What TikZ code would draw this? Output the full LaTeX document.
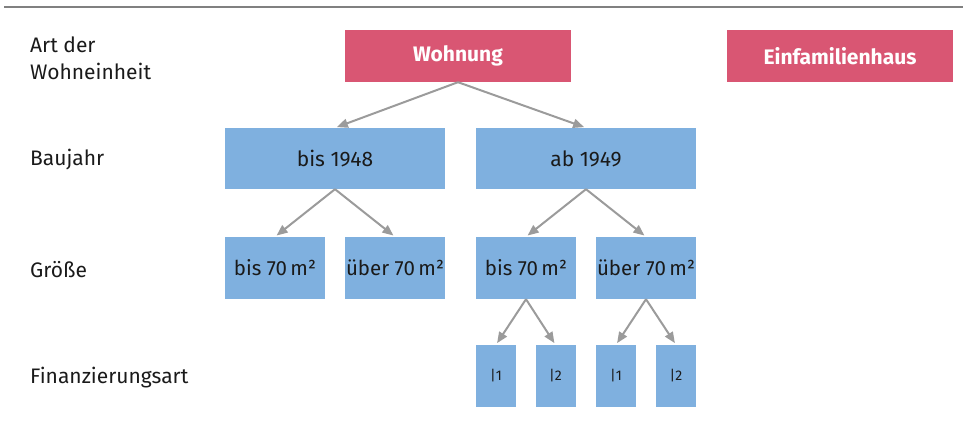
\documentclass[tikz,border=0pt]{standalone}
\usepackage{fontspec}
\setmainfont{Fira Sans}
\usetikzlibrary{arrows.meta}

\definecolor{pinkbox}{HTML}{D95673}
\definecolor{bluebox}{HTML}{7FB0DF}
\definecolor{arrowgray}{HTML}{9B9B9B}
\definecolor{rulegray}{HTML}{808080}
\definecolor{textgray}{HTML}{1A1A1A}

\tikzset{
  level/.style = {anchor = west, align = left, text = textgray, font = \fontsize{21}{27}\selectfont, inner sep = 0pt},
  typebox/.style = {fill = pinkbox, text = white, font = \fontsize{21}{25}\selectfont\bfseries, minimum width = 226pt, minimum height = 52pt, inner sep = 0pt},
  yearbox/.style = {fill = bluebox, text = textgray, font = \fontsize{21}{25}\selectfont, minimum width = 220pt, minimum height = 61pt, inner sep = 0pt},
  sizebox/.style = {fill = bluebox, text = textgray, font = \fontsize{20.5}{25}\selectfont, minimum width = 100pt, minimum height = 62pt, inner sep = 0pt},
  finbox/.style = {fill = bluebox, text = textgray, font = \fontsize{14}{17}\selectfont, minimum width = 40pt, minimum height = 62pt, inner sep = 0pt},
  link/.style = {-{Triangle[length = 11pt, width = 9pt]}, draw = arrowgray, line width = 2pt, shorten > = 2pt}
}

\begin{document}
\begin{tikzpicture}[x = 1pt, y = -1pt]

\useasboundingbox (0, 0) rectangle (963, 427);

\draw[rulegray, line width = 2pt] (4, 7.5) -- (963, 7.5);

% row labels
\node[level] (lType) at (30, 58) {Art der\\Wohneinheit};
\node[level] (lYear) at (30, 160) {Baujahr};
\node[level] (lSize) at (30, 270) {Größe};
\node[level] (lFin) at (30, 378) {Finanzierungsart};

% boxes
\node[typebox] (flat) at (458, 56) {Wohnung};
\node[typebox] (house) at (840, 56) {Einfamilienhaus};

\node[yearbox] (old) at (335, 158.5) {bis 1948};
\node[yearbox] (new) at (586, 158.5) {ab 1949};

\node[sizebox] (oldSmall) at (275, 268) {bis 70\,m²};
\node[sizebox] (oldBig) at (395, 268) {über 70\,m²};
\node[sizebox] (newSmall) at (526, 268) {bis 70\,m²};
\node[sizebox] (newBig) at (646, 268) {über 70\,m²};

\node[finbox] (finA) at (496, 376) {|1};
\node[finbox] (finB) at (555.5, 376) {|2};
\node[finbox] (finC) at (616, 376) {|1};
\node[finbox] (finD) at (676, 376) {|2};

% arrows
\draw[link] (flat.south) -- (old.north);
\draw[link] (flat.south) -- (new.north);

\draw[link] (old.south) -- (oldSmall.north);
\draw[link] (old.south) -- (oldBig.north);
\draw[link] (new.south) -- (newSmall.north);
\draw[link] (new.south) -- (newBig.north);

\draw[link] (newSmall.south) -- (finA.north);
\draw[link] (newSmall.south) -- (finB.north);
\draw[link] (newBig.south) -- (finC.north);
\draw[link] (newBig.south) -- (finD.north);

\end{tikzpicture}
\end{document}
